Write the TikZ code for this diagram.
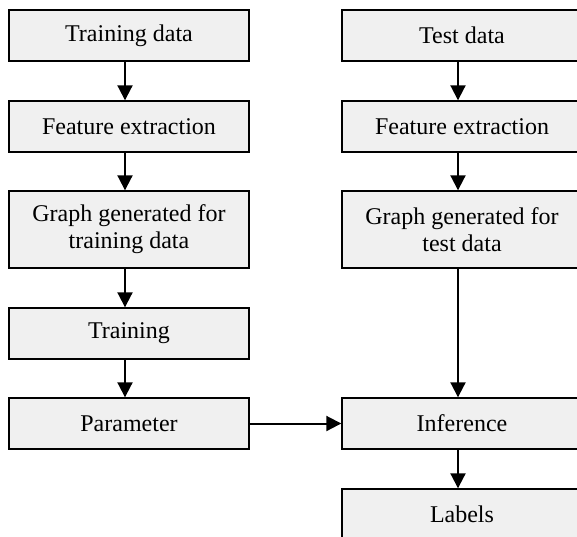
\documentclass[tikz,border=0pt]{standalone}
\usepackage{fontspec}
\setmainfont{Liberation Serif}
\usepackage{tikz}
\usetikzlibrary{arrows.meta}

\begin{document}
\begin{tikzpicture}
		[x=0.5pt, y=-0.5pt,
			box/.style={draw, line width=0.7pt, fill=black!6, minimum width=120pt, minimum height=25.5pt,
				align=center, inner sep=0pt, font=\fontsize{12}{13.5}\selectfont},
			tallbox/.style={box, minimum height=38.5pt},
			flow/.style={-{Triangle[width=7.5pt, length=7.5pt]}, line width=1pt}]
		% fix the frame
		\clip (0, 0) rectangle (577, 536);
		% training column
		\node[box] (train) at (129, 35.5) {Training data};
		\node[box] (feat1) at (129, 126.5) {Feature extraction};
		\node[tallbox] (graph1) at (129, 229.5) {Graph generated for\\training data};
		\node[box] (training) at (129, 333.5) {Training};
		\node[box] (param) at (129, 423.5) {Parameter};
		% test column
		\node[box] (test) at (462, 35.5) {Test data};
		\node[box] (feat2) at (462, 126.5) {Feature extraction};
		\node[tallbox] (graph2) at (462, 229.5) {Graph generated for\\test data};
		\node[box] (infer) at (462, 423.5) {Inference};
		\node[box] (labels) at (462, 514.5) {Labels};
		% connect the boxes
		\draw[flow] ([xshift=-2pt]train.south) to ([xshift=-2pt]feat1.north);
		\draw[flow] ([xshift=-2pt]feat1.south) to ([xshift=-2pt]graph1.north);
		\draw[flow] ([xshift=-2pt]graph1.south) to ([xshift=-2pt]training.north);
		\draw[flow] ([xshift=-2pt]training.south) to ([xshift=-2pt]param.north);
		\draw[flow] ([xshift=-2pt]test.south) to ([xshift=-2pt]feat2.north);
		\draw[flow] ([xshift=-2pt]feat2.south) to ([xshift=-2pt]graph2.north);
		\draw[flow] ([xshift=-2pt]graph2.south) to ([xshift=-2pt]infer.north);
		\draw[flow] ([xshift=-2pt]infer.south) to ([xshift=-2pt]labels.north);
		\draw[flow] (param.east) to (infer.west);
	\end{tikzpicture}
\end{document}
